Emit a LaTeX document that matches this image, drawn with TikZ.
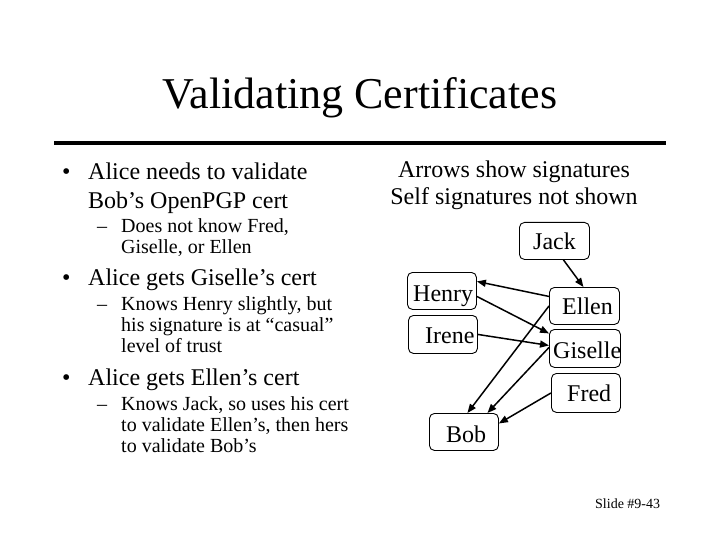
\documentclass[tikz,border=0pt]{standalone}
\usepackage{fontspec}
\setmainfont{Liberation Serif}
\usetikzlibrary{arrows.meta}
\begin{document}
\begin{tikzpicture}[x=1pt,y=-1pt,
  box/.style={draw=black, line width=0.9pt, rounded corners=5pt, inner sep=0pt, anchor=north west},
  lbl/.style={anchor=base west, inner sep=0pt, font=\fontsize{24}{28}\selectfont},
  big/.style={anchor=base west, inner sep=0pt, font=\fontsize{24}{28}\selectfont},
  small/.style={anchor=base west, inner sep=0pt, font=\fontsize{20}{24}\selectfont},
  sig/.style={line width=1.5pt, -{Triangle[length=9pt,width=7pt]}}]
\useasboundingbox[fill=white] (0,0) rectangle (720,540);

% title
\node[anchor=base, inner sep=0pt, font=\fontsize{44}{50}\selectfont] (title) at (360,109) {Validating Certificates};
\coordinate (rl) at (54,143);
\coordinate (rr) at (666,143);
\draw[line width=4.5pt] (rl) -- (rr);

% left column
\node[big] (b1) at (62,180) {•};
\node[big] (t1a) at (88,180) {Alice needs to validate};
\node[big] (t1b) at (88,208) {Bob’s OpenPGP cert};
\node[small] (d1) at (97,233) {–};
\node[small] (s1a) at (121,233) {Does not know Fred,};
\node[small] (s1b) at (121,254) {Giselle, or Ellen};

\node[big] (b2) at (62,285) {•};
\node[big] (t2a) at (88,285) {Alice gets Giselle’s cert};
\node[small] (d2) at (97,310) {–};
\node[small] (s2a) at (121,310) {Knows Henry slightly, but};
\node[small] (s2b) at (121,331) {his signature is at “casual”};
\node[small] (s2c) at (121,352) {level of trust};

\node[big] (b3) at (62,385) {•};
\node[big] (t3a) at (88,385) {Alice gets Ellen’s cert};
\node[small] (d3) at (97,410) {–};
\node[small] (s3a) at (121,410) {Knows Jack, so uses his cert};
\node[small] (s3b) at (121,431) {to validate Ellen’s, then hers};
\node[small] (s3c) at (121,452) {to validate Bob’s};

% right header
\node[anchor=base, inner sep=0pt, font=\fontsize{24}{28}\selectfont] (h1) at (514,178) {Arrows show signatures};
\node[anchor=base, inner sep=0pt, font=\fontsize{24}{28}\selectfont] (h2) at (514,205) {Self signatures not shown};

% boxes
\node[box, minimum width=70pt, minimum height=37pt] (jack) at (519,222) {};
\node[box, minimum width=69pt, minimum height=37pt] (henry) at (407,272) {};
\node[box, minimum width=70pt, minimum height=37pt] (ellen) at (549,287) {};
\node[box, minimum width=69pt, minimum height=38pt] (irene) at (408,315) {};
\node[box, minimum width=71pt, minimum height=38pt] (giselle) at (549,329) {};
\node[box, minimum width=69pt, minimum height=39pt] (fred) at (551,373) {};
\node[box, minimum width=69pt, minimum height=37pt] (bob) at (429,413) {};

\node[lbl] (jackt) at (533,249) {Jack};
\node[lbl] (henryt) at (413,301) {Henry};
\node[lbl] (ellent) at (562,314) {Ellen};
\node[lbl] (irenet) at (425,343) {Irene};
\node[lbl] (giselt) at (553,358) {Giselle};
\node[lbl] (fredt) at (567,401) {Fred};
\node[lbl] (bobt) at (446,442) {Bob};

% signatures
\draw[sig] ([xshift=9pt]jack.south) -- ([xshift=-1pt]ellen.north);
\draw[sig] ([yshift=9.5pt]ellen.west) -- ([yshift=9.5pt]henry.east);
\draw[sig] ([yshift=-5.5pt]henry.east) -- ([yshift=15pt]giselle.west);
\draw[sig] (irene.east) -- ([yshift=3pt]giselle.west);
\draw[sig] (ellen.west) -- ([xshift=3.5pt]bob.north);
\draw[sig] ([yshift=1pt]giselle.west) -- ([xshift=23.5pt]bob.north);
\draw[sig] (fred.west) -- ([yshift=8.5pt]bob.east);

% footer
\node[anchor=base west, inner sep=0pt, font=\fontsize{14}{16}\selectfont] (foot) at (595,508) {Slide \#9-43};
\end{tikzpicture}
\end{document}
